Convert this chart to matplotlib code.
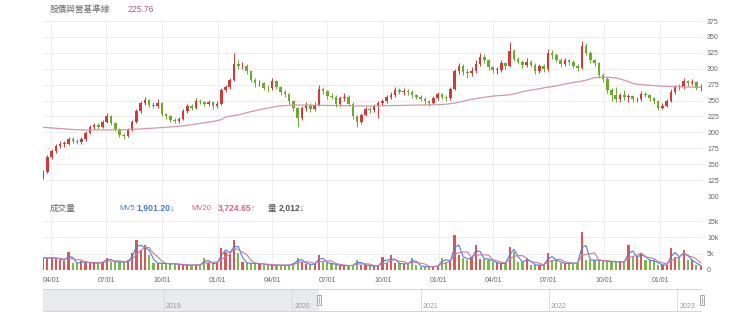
import matplotlib
matplotlib.use("Agg")
import matplotlib.pyplot as plt
import matplotlib.dates as mdates
import matplotlib.transforms as mtransforms
from matplotlib.patches import Rectangle
import numpy as np
import pandas as pd

plt.rcParams['font.family'] = ['Liberation Sans', 'Noto Sans CJK TC', 'DejaVu Sans']

# weekly candles
weeks = pd.date_range("2020-03-19", periods=156, freq="7D")

close = [138, 162, 170, 178, 182, 182, 190, 187, 185, 189,
         199, 208, 211, 209, 216, 226, 215, 205, 196, 194,
         204, 217, 233, 246, 251, 243, 242, 246, 229, 225,
         219, 218, 221, 233, 241, 239, 250, 248, 245, 247,
         242, 245, 266, 271, 282, 308, 304, 305, 296, 283,
         277, 277, 270, 269, 280, 271, 263, 260, 249, 238,
         222, 238, 243, 236, 243, 268, 265, 257, 256, 244,
         254, 256, 245, 225, 216, 228, 237, 235, 242, 246,
         249, 256, 259, 267, 264, 265, 264, 258, 256, 253,
         249, 246, 254, 260, 256, 254, 268, 296, 304, 295,
         293, 296, 308, 319, 314, 303, 298, 298, 309, 304,
         328, 316, 311, 306, 311, 306, 296, 304, 299, 325,
         321, 314, 307, 313, 310, 305, 301, 336, 325, 313,
         309, 290, 284, 266, 258, 253, 258, 256, 257, 252,
         252, 261, 259, 254, 249, 239, 242, 250, 264, 272,
         271, 280, 277, 279, 269, 272]

high = [141, 165, 174, 181, 186, 187, 193, 192, 189, 192,
        202, 211, 215, 214, 219, 231, 228, 217, 207, 199,
        207, 220, 236, 249, 256, 253, 247, 253, 248, 231,
        227, 222, 224, 236, 245, 244, 254, 253, 250, 251,
        249, 249, 269, 275, 286, 324, 313, 310, 307, 298,
        285, 282, 279, 274, 286, 282, 273, 267, 262, 251,
        240, 241, 247, 246, 247, 274, 271, 267, 262, 258,
        257, 262, 258, 247, 227, 231, 240, 240, 245, 250,
        253, 259, 263, 271, 270, 269, 268, 266, 261, 258,
        255, 251, 257, 264, 262, 259, 272, 300, 309, 307,
        299, 303, 313, 324, 323, 316, 305, 303, 313, 311,
        342, 331, 319, 314, 317, 314, 309, 308, 307, 331,
        329, 324, 317, 317, 316, 313, 308, 343, 340, 328,
        316, 311, 293, 287, 270, 271, 262, 266, 261, 259,
        256, 265, 264, 261, 256, 251, 246, 253, 268, 275,
        276, 286, 283, 284, 281, 276]

low = [127, 136, 158, 167, 175, 177, 180, 184, 181, 182,
       187, 197, 205, 205, 207, 214, 212, 202, 193, 189,
       192, 202, 215, 231, 243, 240, 238, 239, 226, 221,
       216, 215, 215, 219, 231, 235, 237, 244, 241, 242,
       237, 238, 243, 263, 268, 280, 299, 299, 292, 279,
       272, 273, 266, 264, 267, 268, 259, 256, 245, 233,
       209, 219, 234, 232, 233, 241, 260, 252, 252, 240,
       241, 250, 241, 221, 209, 213, 225, 231, 232, 222,
       243, 246, 253, 256, 260, 259, 259, 254, 252, 249,
       245, 242, 244, 251, 252, 250, 251, 266, 292, 290,
       286, 288, 293, 305, 309, 298, 293, 292, 295, 300,
       302, 312, 307, 301, 303, 302, 292, 293, 295, 297,
       316, 310, 303, 304, 306, 301, 297, 299, 321, 309,
       304, 286, 279, 262, 250, 247, 248, 251, 248, 247,
       247, 250, 255, 250, 245, 235, 236, 240, 248, 261,
       266, 268, 273, 274, 266, 265]

first_open = 130
opens = [first_open] + close[:-1]

# long base line (pink)
base_line = [208, 207.5, 207, 206.5, 206, 205.5, 205, 204.5, 204, 204,
             203.8, 203.8, 203.7, 203.7, 203.8, 203.8, 204, 204, 204, 204,
             204.2, 204.6, 205, 205.4, 205.8, 206.2, 206.6, 207, 207.5, 208,
             208.5, 209, 209.6, 210.2, 211, 212, 213, 214, 215, 216,
             217, 218.5, 220, 224, 225.5, 226.5, 227.5, 229, 231, 232.5,
             234, 235.5, 237, 238, 239.5, 241, 241.5, 242, 242.5, 243,
             243, 243, 242.8, 242.7, 242.6, 242.5, 242.5, 242.4, 242.3, 242.2,
             242.1, 242, 242, 241.8, 241.6, 241.5, 241.4, 241.4, 241.5, 241.6,
             241.8, 242, 242.1, 242.2, 242.4, 242.5, 242.6, 242.7, 242.8, 243,
             243, 243.1, 243.2, 243.4, 243.8, 244.3, 245, 246, 247.5, 249,
             250.5, 252, 253, 254, 255, 256, 257, 257.5, 258, 258.5,
             259, 260.5, 262, 264, 265.5, 266.5, 267.5, 268.5, 270, 271,
             272, 273, 274.5, 276, 277, 278.5, 279.5, 280.5, 282, 284,
             286, 286.3, 286.5, 286.5, 286, 285.5, 284, 282, 279.5, 277,
             275.5, 275, 274.5, 274, 273.5, 273, 272.5, 272.2, 272, 271.8,
             271.6, 271.4, 271.2, 271, 270.8, 270.7]

# volume in thousands of lots
vol_k = [3.8, 3.6, 3.8, 3.5, 3.2, 2.8, 5.6, 2.1, 2.0, 2.8,
         2.3, 2.2, 2.0, 2.3, 2.4, 3.8, 2.6, 2.4, 2.5, 2.3,
         3.0, 5.2, 9.2, 6.0, 7.6, 4.6, 2.2, 2.0, 2.1, 1.9,
         1.8, 2.0, 1.5, 1.6, 1.4, 1.5, 1.6, 1.5, 3.8, 2.0,
         2.1, 2.0, 6.7, 5.6, 5.0, 9.2, 5.2, 2.5, 2.0, 2.1,
         1.9, 2.0, 1.6, 1.5, 1.6, 1.4, 1.5, 1.4, 1.6, 2.0,
         3.8, 2.5, 1.8, 1.6, 2.0, 4.6, 2.5, 2.0, 2.0, 1.5,
         1.3, 1.4, 1.3, 1.5, 3.0, 1.6, 1.5, 1.2, 1.2, 1.3,
         4.0, 2.0, 4.6, 2.0, 2.0, 1.8, 2.0, 3.8, 1.5, 1.0,
         1.0, 1.0, 1.1, 1.3, 3.8, 2.5, 3.0, 10.7, 4.6, 3.8,
         3.0, 4.0, 7.8, 3.5, 3.5, 3.2, 2.5, 2.0, 2.0, 2.2,
         7.1, 5.6, 2.5, 2.4, 3.8, 1.6, 1.5, 1.5, 1.6, 5.2,
         3.0, 3.0, 2.0, 2.0, 2.2, 2.0, 2.1, 11.7, 3.2, 3.0,
         3.0, 3.0, 2.8, 2.5, 2.5, 2.6, 2.4, 2.5, 7.6, 4.0,
         4.0, 5.2, 3.0, 3.0, 2.8, 1.6, 1.5, 1.5, 6.7, 4.0,
         4.0, 6.1, 3.0, 3.0, 1.4, 1.2]

price_ticks = [100, 125, 150, 175, 200, 225, 250, 275, 300, 325, 350, 375]
vol_ticks = [0, 5, 10, 15]
vol_tick_labels = ["0", "5k", "10k", "15k"]
quarter_ticks = pd.to_datetime(["2020-04-01", "2020-07-01", "2020-10-01", "2021-01-01",
                                "2021-04-01", "2021-07-01", "2021-10-01", "2022-01-01",
                                "2022-04-01", "2022-07-01", "2022-10-01", "2023-01-01"])
nav_years = [2019, 2020, 2021, 2022, 2023]

title_txt = "股價與營基準線"
title_val = "225.76"
mv5_txt, mv5_val = "MV5", "1,901.20↓"
mv20_txt, mv20_val = "MV20", "3,724.65↑"
qty_txt, qty_val = "量", "2,012↓"

RED = "#d23a3a"
GREEN = "#6aab2a"
GRID = "#ececec"
TXT = "#666666"

W, H = 740, 322
fig = plt.figure(figsize=(W / 100, H / 100), dpi=100)


def box(x0, y0, x1, y1):
    return [x0 / W, 1 - y1 / H, (x1 - x0) / W, (y1 - y0) / H]


t0 = pd.Timestamp("2020-03-18 19:00")
t1 = pd.Timestamp("2023-03-12 23:00")

# background with vertical grid lines spanning both panels
bg = fig.add_axes(box(43, 21, 703, 270), zorder=0)
bg.set_xlim(t0, t1)
bg.set_ylim(0, 1)
for d in quarter_ticks:
    bg.axvline(d, color=GRID, lw=0.6)
bg.axis("off")

up = np.array(close) >= np.array(opens)
cols = [RED if u else GREEN for u in up]

# price panel
ax = fig.add_axes(box(43, 21, 703, 196), zorder=2)
ax.set_facecolor("none")
ax.vlines(weeks, low, high, colors=cols, lw=0.7)
body = np.abs(np.array(close) - np.array(opens))
body = np.maximum(body, 0.8)
ax.bar(weeks, body, bottom=np.minimum(close, opens), width=4.2, color=cols, linewidth=0)
ax.plot(weeks, base_line, color="#d495ad", lw=0.9)
ax.set_xlim(t0, t1)
ax.set_ylim(100, 375)
ax.set_yticks(price_ticks)
ax.yaxis.tick_right()
ax.tick_params(axis="y", length=0, pad=3, labelsize=5, labelcolor=TXT)
ax.set_xticks([])
ax.grid(axis="y", color=GRID, lw=0.6)
ax.set_axisbelow(True)
for s in ax.spines.values():
    s.set_visible(False)

# volume panel
av = fig.add_axes(box(43, 221, 703, 270), zorder=2)
av.set_facecolor("none")
av.bar(weeks, vol_k, width=3.6, color=cols, alpha=0.85, linewidth=0)
vs = pd.Series(vol_k)
av.plot(weeks, vs.rolling(2, min_periods=1).mean(), color="#4f7fd4", lw=0.8)
av.plot(weeks, vs.rolling(4, min_periods=1).mean(), color="#c97aa8", lw=0.8)
av.set_xlim(t0, t1)
av.set_ylim(0, 15)
av.set_yticks(vol_ticks)
av.set_yticklabels(vol_tick_labels)
av.yaxis.tick_right()
av.tick_params(axis="y", length=0, pad=3, labelsize=5, labelcolor=TXT)
av.set_xticks(quarter_ticks)
av.xaxis.set_major_formatter(mdates.DateFormatter("%m/%d"))
av.tick_params(axis="x", length=0, pad=5, labelsize=5, labelcolor=TXT)
av.grid(axis="y", color=GRID, lw=0.6)
av.set_axisbelow(True)
for s in av.spines.values():
    s.set_visible(False)

# navigator
n0 = pd.Timestamp("2018-01-21 14:00")
n1 = pd.Timestamp("2023-03-10")
an = fig.add_axes(box(43, 289, 701, 311), zorder=1)
an.set_xlim(n0, n1)
an.set_ylim(0, 1)
an.axvspan(n0, t0, color="#e8eaee", lw=0)
for yr in nav_years:
    d = pd.Timestamp(f"{yr}-01-01")
    an.axvline(d, color="#d6d6d6", lw=0.6)
    an.text(d + pd.Timedelta(days=6), 0.2, str(yr), fontsize=5, color="#999999", va="center")
an.set_xticks([])
an.set_yticks([])
for k, s in an.spines.items():
    s.set_color("#cfcfcf")
    s.set_linewidth(0.6)
    if k in ("left", "right"):
        s.set_visible(False)
trans = mtransforms.blended_transform_factory(an.transData, an.transAxes)
for d in (t0, min(t1, n1) + pd.Timedelta(days=3)):
    dn = mdates.date2num(d)
    an.add_patch(Rectangle((dn - 5.7, 0.27), 11.4, 0.45, transform=trans, fc="#f4f4f4",
                           ec="#9a9a9a", lw=0.6, clip_on=False, zorder=5))
    an.plot([dn, dn], [0.38, 0.62], transform=trans, color="#9a9a9a", lw=0.5,
            clip_on=False, zorder=6)

# header texts
fs = 6.2
fs_lab = 5.6
fig.text(50 / W, 1 - 9 / H, title_txt, fontsize=fs, color=TXT, va="center")
fig.text(128 / W, 1 - 9 / H, title_val, fontsize=fs, color="#c4507f", va="center")
fig.text(50 / W, 1 - 208 / H, "成交量", fontsize=fs, color=TXT, va="center")
fig.text(119 / W, 1 - 208 / H, mv5_txt, fontsize=fs_lab, color="#4a7bd1", va="center")
fig.text(136 / W, 1 - 208 / H, mv5_val, fontsize=fs, color="#4a7bd1", va="center", weight="bold")
fig.text(191 / W, 1 - 208 / H, mv20_txt, fontsize=fs_lab, color="#d0608a", va="center")
fig.text(218 / W, 1 - 208 / H, mv20_val, fontsize=fs, color="#d0608a", va="center", weight="bold")
fig.text(268 / W, 1 - 208 / H, qty_txt, fontsize=fs, color="#555555", va="center")
fig.text(279 / W, 1 - 208 / H, qty_val, fontsize=fs, color="#555555", va="center", weight="bold")

fig.savefig("out.png", dpi=100)
